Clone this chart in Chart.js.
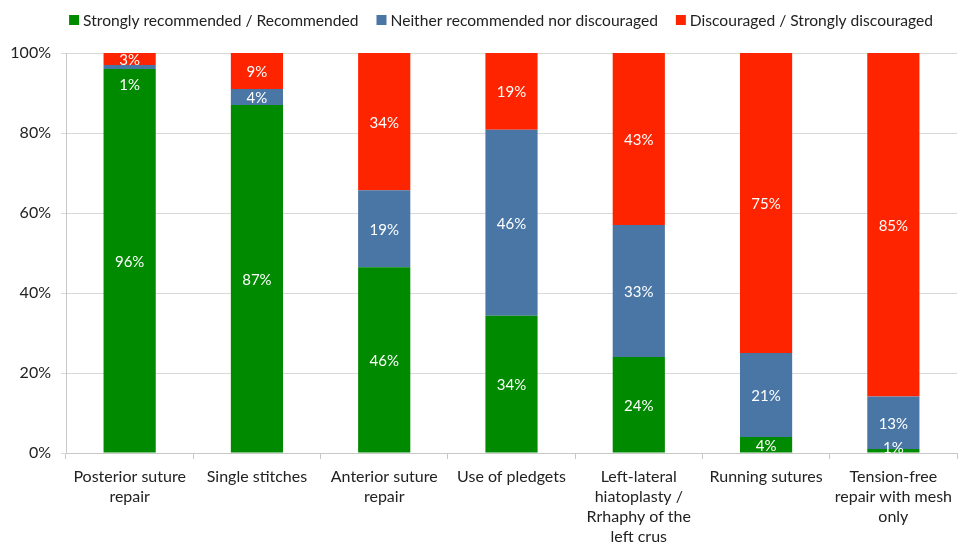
<!DOCTYPE html>
<html>
<head>
<meta charset="utf-8">
<script src="https://cdn.jsdelivr.net/npm/chart.js@4/dist/chart.umd.min.js"></script>
<style>
  html, body { margin: 0; padding: 0; background: #fff; }
  #wrap { width: 963px; height: 545px; }
</style>
</head>
<body>
<div id="wrap"><canvas id="repairChart" width="963" height="545"></canvas></div>
<script>
const categories = [
    ['Posterior suture', 'repair'],
    ['Single stitches'],
    ['Anterior suture', 'repair'],
    ['Use of pledgets'],
    ['Left-lateral', 'hiatoplasty /', 'Rrhaphy of the', 'left crus'],
    ['Running sutures'],
    ['Tension-free', 'repair with mesh', 'only']
];
const seriesNames = [
    'Strongly recommended / Recommended',
    'Neither recommended nor discouraged',
    'Discouraged / Strongly discouraged'
];
const recommended = [96, 87, 46, 34, 24, 4, 1];
const neither = [1, 4, 19, 46, 33, 21, 13];
const discouraged = [3, 9, 34, 19, 43, 75, 85];
const yTicks = [0, 20, 40, 60, 80, 100];

const colors = ['#008a00', '#4a76a6', '#ff2400'];
const FONT = 'Lato, "Open Sans", sans-serif';

const raw = [recommended, neither, discouraged];
// 100% stack: each bar is scaled by its own total
const totals = categories.map((c, i) => raw.reduce((s, arr) => s + arr[i], 0));
const shares = raw.map(arr => arr.map((v, i) => v / totals[i] * 100));

const legendPlugin = {
    id: 'topLegend',
    afterDraw(chart) {
        const ctx = chart.ctx;
        ctx.save();
        ctx.font = '15.6px ' + FONT;
        ctx.textBaseline = 'middle';
        ctx.textAlign = 'left';
        const gap = 18, box = 10, boxGap = 4;
        let total = 0;
        seriesNames.forEach((n, i) => {
            total += box + boxGap + ctx.measureText(n).width + (i < seriesNames.length - 1 ? gap : 0);
        });
        let x = 501 - total / 2;
        const y = 20;
        seriesNames.forEach((n, i) => {
            ctx.fillStyle = colors[i];
            ctx.fillRect(x, y - box / 2, box, box);
            x += box + boxGap;
            ctx.fillStyle = '#222';
            ctx.fillText(n, x, y + 1);
            x += ctx.measureText(n).width + gap;
        });
        ctx.restore();
    }
};

const valueLabels = {
    id: 'valueLabels',
    afterDatasetsDraw(chart) {
        const ctx = chart.ctx;
        const bottom = chart.chartArea.bottom;
        const h = 15;
        ctx.save();
        ctx.font = '15px ' + FONT;
        ctx.fillStyle = '#fff';
        ctx.textAlign = 'center';
        ctx.textBaseline = 'middle';
        categories.forEach((c, j) => {
            let prevBottom = -Infinity;
            // top segment first so smaller labels get pushed down
            for (let d = raw.length - 1; d >= 0; d--) {
                const bar = chart.getDatasetMeta(d).data[j];
                let cy = (bar.y + bar.base) / 2;
                if (cy - h / 2 < prevBottom) cy = prevBottom + h / 2 + 10;
                if (cy + h / 2 > bottom) cy = bottom - h / 2 + 2;
                ctx.fillText(raw[d][j] + '%', bar.x, cy + 1);
                prevBottom = cy + h / 2;
            }
        });
        ctx.restore();
    }
};

new Chart(document.getElementById('repairChart'), {
    type: 'bar',
    data: {
        labels: categories,
        datasets: seriesNames.map((name, i) => ({
            label: name,
            data: shares[i],
            backgroundColor: colors[i],
            borderWidth: 0,
            barPercentage: 0.41,
            categoryPercentage: 1.0
        }))
    },
    options: {
        responsive: false,
        animation: false,
        devicePixelRatio: 1,
        layout: { padding: { top: 53, right: 6, left: 0, bottom: 0 } },
        plugins: {
            legend: { display: false },
            tooltip: { enabled: false }
        },
        scales: {
            x: {
                stacked: true,
                grid: {
                    offset: true,
                    drawOnChartArea: false,
                    tickLength: 6,
                    color: '#c8c8c8'
                },
                border: { color: '#c8c8c8' },
                ticks: {
                    color: '#222',
                    font: { family: FONT, size: 16, lineHeight: 1.25 },
                    padding: 8,
                    maxRotation: 0,
                    autoSkip: false
                },
                afterFit: (scale) => { scale.height = 92; }
            },
            y: {
                stacked: true,
                min: 0,
                max: 100,
                afterBuildTicks: (scale) => { scale.ticks = yTicks.map(v => ({ value: v })); },
                grid: { color: '#d9d9d9', tickLength: 5 },
                border: { color: '#c8c8c8' },
                ticks: {
                    color: '#222',
                    font: { family: FONT, size: 16 },
                    padding: 10,
                    callback: (v) => v + '%'
                },
                afterFit: (scale) => { scale.width = 66; }
            }
        }
    },
    plugins: [legendPlugin, valueLabels]
});
</script>
</body>
</html>
